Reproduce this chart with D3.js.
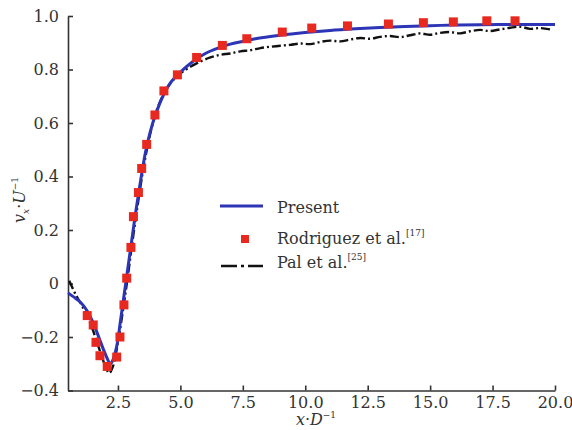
<!DOCTYPE html>
<html lang="en">
<head>
<meta charset="UTF-8">
<title>Wake velocity profile</title>
<style>
  body { margin: 0; background: #fff; }
  svg text { font-family: "DejaVu Serif", "Liberation Serif", "Times New Roman", serif; fill: #333; }
</style>
</head>
<body>
<div id="container"></div>
<script src="https://d3js.org/d3.v7.min.js"></script>
<script>
// Present simulation (solid blue line)
var presentX = [0.5, 0.8, 1.0, 1.25, 1.5, 1.75, 2.0, 2.2, 2.3, 2.45, 2.6, 2.75, 2.9, 3.05, 3.2, 3.4, 3.6, 3.8, 4.0, 4.3, 4.6, 5.0, 5.5, 6.0, 6.5, 7.0, 7.5, 8.0, 9.0, 10.0, 11.0, 12.0, 13.0, 14.0, 15.0, 16.0, 17.0, 18.0, 19.0, 20.0];
var presentY = [-0.035, -0.055, -0.07, -0.1, -0.145, -0.205, -0.265, -0.3, -0.285, -0.235, -0.14, -0.04, 0.06, 0.16, 0.26, 0.38, 0.49, 0.57, 0.63, 0.70, 0.75, 0.79, 0.83, 0.86, 0.88, 0.895, 0.905, 0.915, 0.928, 0.938, 0.946, 0.952, 0.957, 0.961, 0.964, 0.966, 0.967, 0.968, 0.968, 0.968];

// Rodriguez et al. (red squares)
var rodX = [1.27, 1.51, 1.62, 1.78, 2.07, 2.45, 2.58, 2.74, 2.85, 3.02, 3.12, 3.32, 3.45, 3.65, 3.98, 4.34, 4.88, 5.65, 6.68, 7.66, 9.08, 10.26, 11.69, 13.33, 14.73, 15.93, 17.27, 18.40];
var rodY = [-0.12, -0.155, -0.22, -0.27, -0.31, -0.275, -0.2, -0.08, 0.02, 0.135, 0.25, 0.34, 0.43, 0.52, 0.63, 0.72, 0.78, 0.845, 0.89, 0.915, 0.94, 0.955, 0.963, 0.97, 0.975, 0.978, 0.982, 0.982];

// Pal et al. (black dash-dot line)
var palX = [0.55, 0.8, 1.1, 1.4, 1.7, 2.0, 2.15, 2.3, 2.5, 2.7, 2.9, 3.1, 3.3, 3.5, 3.7, 3.9, 4.1, 4.4, 4.7, 5.0, 5.4, 5.8, 6.2, 6.6, 7.0, 7.4, 7.8, 8.2, 8.6, 9.0, 9.4, 9.8, 10.2, 10.6, 11.0, 11.4, 11.8, 12.2, 12.6, 13.0, 13.4, 13.8, 14.2, 14.6, 15.0, 15.4, 15.8, 16.2, 16.6, 17.0, 17.4, 17.8, 18.2, 18.6, 19.0, 19.4, 19.8];
var palY = [0.01, -0.04, -0.09, -0.15, -0.23, -0.31, -0.335, -0.31, -0.22, -0.1, 0.03, 0.17, 0.3, 0.42, 0.52, 0.6, 0.66, 0.72, 0.76, 0.785, 0.81, 0.83, 0.845, 0.855, 0.86, 0.868, 0.872, 0.88, 0.885, 0.889, 0.892, 0.897, 0.895, 0.903, 0.908, 0.905, 0.912, 0.918, 0.915, 0.922, 0.925, 0.921, 0.928, 0.935, 0.93, 0.937, 0.94, 0.935, 0.943, 0.948, 0.944, 0.95, 0.956, 0.96, 0.952, 0.955, 0.95];

var xTicks = [2.5, 5.0, 7.5, 10.0, 12.5, 15.0, 17.5, 20.0];
var yTicks = [-0.4, -0.2, 0, 0.2, 0.4, 0.6, 0.8, 1.0];

var width = 572, height = 430;
var serif = "'DejaVu Serif', 'Liberation Serif', 'Times New Roman', serif";

var svg = d3.select("#container").append("svg")
    .attr("width", width)
    .attr("height", height)
    .attr("font-family", serif);

var x = d3.scaleLinear().domain([0.5, 20]).range([68, 555]);
var y = d3.scaleLinear().domain([-0.4, 1.0]).range([390.5, 16]);

// Axes: only left and bottom, ticks pointing inward
var xAxis = svg.append("g")
    .attr("transform", "translate(0," + y(-0.4) + ")")
    .call(d3.axisBottom(x).tickValues(xTicks).tickSizeInner(-5).tickSizeOuter(0)
        .tickPadding(6).tickFormat(d3.format(".1f")));

var yAxis = svg.append("g")
    .attr("transform", "translate(" + x(0.5) + ",0)")
    .call(d3.axisLeft(y).tickValues(yTicks).tickSizeInner(-5).tickSizeOuter(0)
        .tickPadding(9).tickFormat(function(d) {
            return d === 0 ? "0" : d3.format(".1f")(d).replace("-", "\u2212");
        }));

[xAxis, yAxis].forEach(function(g) {
    g.attr("font-family", serif).attr("font-size", 16);
    g.select(".domain").attr("stroke", "#333").attr("stroke-width", 1.6);
    g.selectAll(".tick line").attr("stroke", "#333").attr("stroke-width", 1.6);
    g.selectAll(".tick text").attr("fill", "#333");
});

var line = d3.line()
    .x(function(d) { return x(d[0]); })
    .y(function(d) { return y(d[1]); })
    .curve(d3.curveCatmullRom);

// Pal et al. line
svg.append("path")
    .datum(d3.zip(palX, palY))
    .attr("fill", "none")
    .attr("stroke", "#111")
    .attr("stroke-width", 2.4)
    .attr("stroke-dasharray", "9,3,2,3")
    .attr("d", line);

// Present line
svg.append("path")
    .datum(d3.zip(presentX, presentY))
    .attr("fill", "none")
    .attr("stroke", "#2c35b5")
    .attr("stroke-width", 3)
    .attr("d", line);

// Rodriguez squares
var sq = 9;
svg.append("g").selectAll("rect")
    .data(d3.zip(rodX, rodY))
    .enter().append("rect")
    .attr("x", function(d) { return x(d[0]) - sq / 2; })
    .attr("y", function(d) { return y(d[1]) - sq / 2; })
    .attr("width", sq)
    .attr("height", sq)
    .attr("fill", "#e8291f");

// Legend
var legend = svg.append("g").attr("font-size", 16);
legend.append("line")
    .attr("x1", 220).attr("x2", 263).attr("y1", 206).attr("y2", 206)
    .attr("stroke", "#2c35b5").attr("stroke-width", 3);
legend.append("text").attr("x", 277).attr("y", 213).text("Present");

legend.append("rect")
    .attr("x", 241).attr("y", 235).attr("width", 8).attr("height", 8)
    .attr("fill", "#e8291f");
var rodText = legend.append("text").attr("x", 277).attr("y", 244);
rodText.append("tspan").text("Rodriguez et al.");
rodText.append("tspan").attr("font-size", 9).attr("dy", -8).text("[17]");

legend.append("line")
    .attr("x1", 221).attr("x2", 263).attr("y1", 266).attr("y2", 266)
    .attr("stroke", "#111").attr("stroke-width", 2.4)
    .attr("stroke-dasharray", "16,4,3,4,6,0");
var palText = legend.append("text").attr("x", 277).attr("y", 268);
palText.append("tspan").text("Pal et al.");
palText.append("tspan").attr("font-size", 9).attr("dy", -8).text("[25]");

// Axis titles
var xt = svg.append("text")
    .attr("x", 316).attr("y", 425)
    .attr("text-anchor", "middle")
    .attr("font-size", 16);
xt.append("tspan").attr("font-style", "italic").text("x");
xt.append("tspan").text("\u00b7");
xt.append("tspan").attr("font-style", "italic").text("D");
xt.append("tspan").attr("font-size", 9).attr("dy", -7).text("\u22121");

var yt = svg.append("text")
    .attr("transform", "translate(25,200) rotate(-90)")
    .attr("text-anchor", "middle")
    .attr("font-size", 16);
yt.append("tspan").attr("font-style", "italic").text("v");
yt.append("tspan").attr("font-size", 9).attr("dy", 4).attr("font-style", "italic").text("x");
yt.append("tspan").attr("dy", -4).text("\u00b7");
yt.append("tspan").attr("font-style", "italic").text("U");
yt.append("tspan").attr("font-size", 9).attr("dy", -7).text("\u22121");
</script>
</body>
</html>
